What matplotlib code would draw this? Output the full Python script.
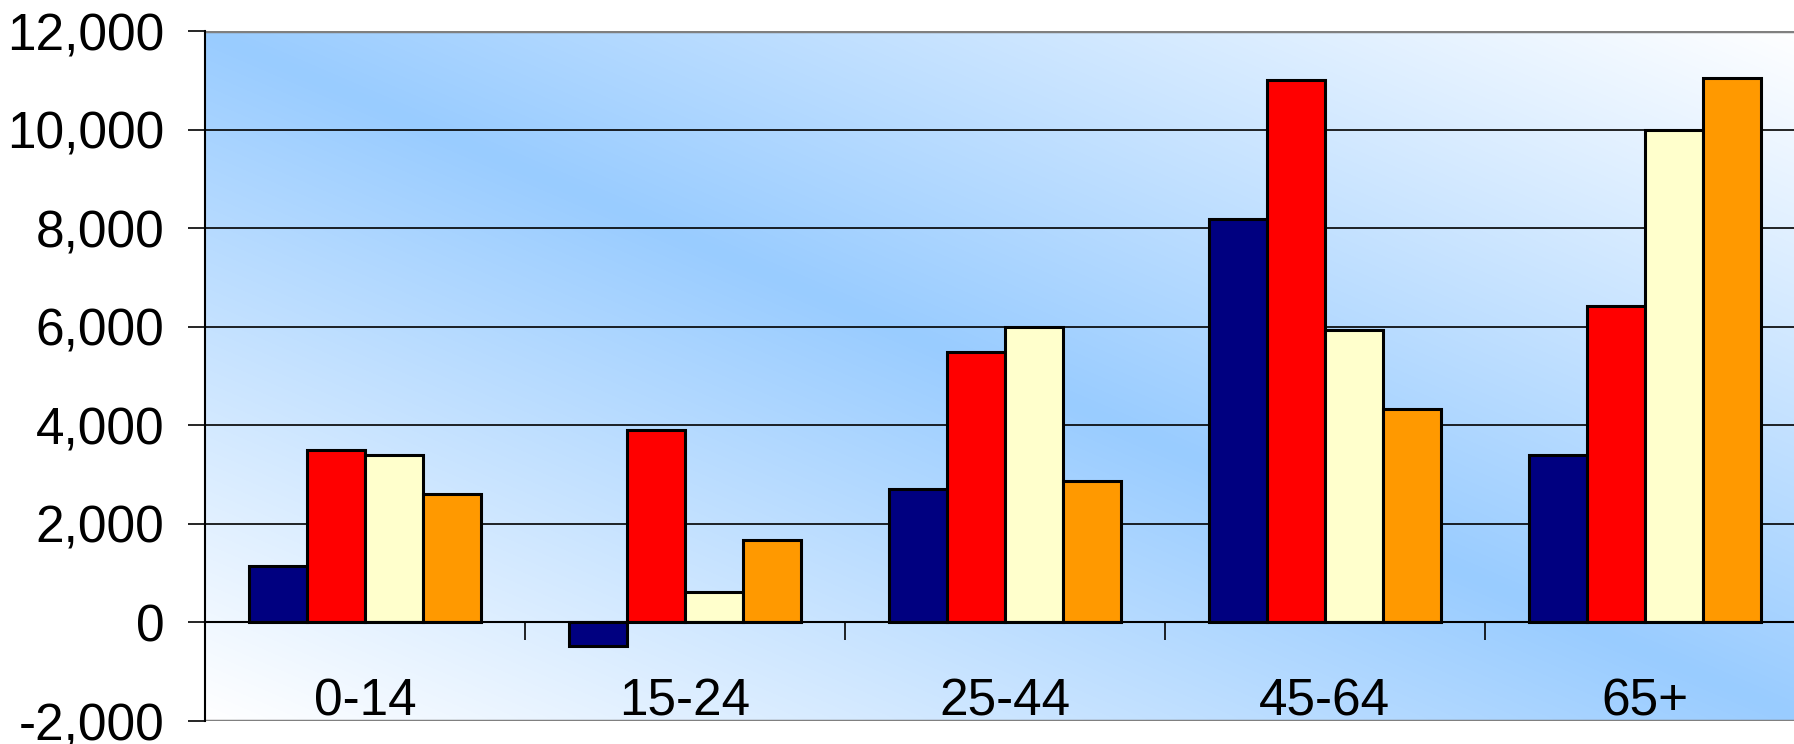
import numpy as np
import matplotlib
matplotlib.use("Agg")
from matplotlib import pyplot as plt
from matplotlib.ticker import FuncFormatter, FixedLocator

plt.rcParams['font.family'] = ['Liberation Sans', 'DejaVu Sans']

age_groups = ["0-14", "15-24", "25-44", "45-64", "65+"]
series_navy = [1150, -480, 2700, 8180, 3400]
series_red = [3500, 3900, 5480, 11000, 6420]
series_cream = [3400, 620, 6000, 5940, 10000]
series_orange = [2600, 1680, 2880, 4340, 11050]
y_ticks = [-2000, 0, 2000, 4000, 6000, 8000, 10000, 12000]

series = [series_navy, series_red, series_cream, series_orange]
colors = ['#000080', '#FF0000', '#FFFFCC', '#FF9900']

fig = plt.figure(figsize=(17.94, 7.44), dpi=100)
ax = fig.add_axes([0.1142, 0.0309, 0.8919, 0.9274])

ymin, ymax = y_ticks[0], y_ticks[-1]
n = len(age_groups)
ax.set_xlim(-0.5, n - 0.5)
ax.set_ylim(ymin, ymax)

# diagonal two-colour fill: white corners, blue band along the other diagonal
u, v = np.meshgrid(np.linspace(0, 1, 400), np.linspace(0, 1, 200))
w = np.clip(1 - np.abs(u + v - 1), 0, 1)
blue = np.array([0x99, 0xCC, 0xFF]) / 255.0
white = np.ones(3)
bg = white[None, None, :] * (1 - w[..., None]) + blue[None, None, :] * w[..., None]
ax.imshow(bg, extent=(-0.5, n - 0.5, ymin, ymax), origin='lower',
          aspect='auto', zorder=0, interpolation='bilinear')

# gridlines
for t in y_ticks[1:-1]:
    ax.axhline(t, color='black', lw=1.2, zorder=1)
ax.axhline(ymax, color='#808080', lw=2.5, zorder=1)
ax.axhline(ymin, color='#808080', lw=2.5, zorder=1)

bar_w = 1 / 5.5
x = np.arange(n)
for j, (vals, c) in enumerate(zip(series, colors)):
    ax.bar(x + (j - 1.5) * bar_w, vals, width=bar_w, color=c,
           edgecolor='black', linewidth=2.2, zorder=3)

for spine in ['top', 'right']:
    ax.spines[spine].set_visible(False)
ax.spines['left'].set_linewidth(1.5)
ax.spines['bottom'].set_position(('data', 0))
ax.spines['bottom'].set_linewidth(1.5)
ax.spines['bottom'].set_zorder(4)

ax.yaxis.set_major_locator(FixedLocator(y_ticks))
ax.yaxis.set_major_formatter(FuncFormatter(lambda val, pos: f"{val:,.0f}"))
ax.tick_params(axis='y', direction='out', length=12, width=1.2,
               labelsize=37, pad=17)

ax.xaxis.set_major_locator(FixedLocator(np.arange(n + 1) - 0.5))
ax.tick_params(axis='x', direction='out', length=13, width=1.2,
               labelbottom=False)

for i, name in enumerate(age_groups):
    ax.text(i, -1620, name, ha='center', va='center', fontsize=37, zorder=5)

fig.savefig("out.png", dpi=100)
